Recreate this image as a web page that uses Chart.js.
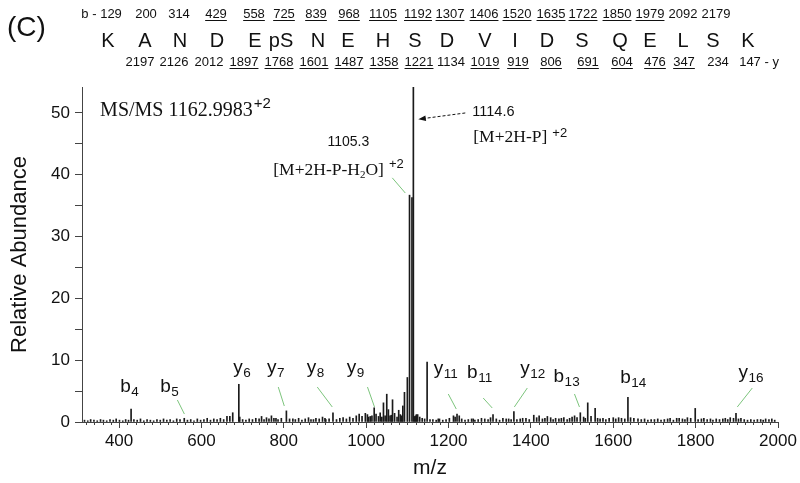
<!DOCTYPE html>
<html>
<head>
<meta charset="utf-8">
<script src="https://cdn.jsdelivr.net/npm/chart.js@4.4.1/dist/chart.umd.min.js"></script>
<style>
  html, body { margin: 0; padding: 0; background: #fff; }
  #contenitore { width: 800px; height: 483px; }
</style>
</head>
<body>
<div id="contenitore"><canvas id="spettro" width="800" height="483"></canvas></div>
<script>
// sequenza del peptide e ioni b / y (sottolineati = osservati)
const residui = ['K','A','N','D','E','pS','N','E','H','S','D','V','I','D','S','Q','E','L','S','K'];
const ioniB = [129,200,314,429,558,725,839,968,1105,1192,1307,1406,1520,1635,1722,1850,1979,2092,2179];
const ioniBVisti = [0,0,0,1,1,1,1,1,1,1,1,1,1,1,1,1,1,0,0];
const ioniY = [2197,2126,2012,1897,1768,1601,1487,1358,1221,1134,1019,919,806,691,604,476,347,234,147];
const ioniYVisti = [0,0,0,1,1,1,1,1,1,0,1,1,1,1,1,1,1,0,0];

// picchi principali [m/z, abbondanza relativa]
const picchiPrincipali = [
  [429.2,2.1],[558.3,0.6],[669,0.9],[676,1.5],[690.8,6.1],[693,0.8],[758,0.7],[770,1.0],[781,0.6],
  [806.3,1.8],[822,0.5],[872,0.4],[900,0.6],[919.4,1.5],[990,0.9],[998,1.4],[1003,1.2],[1010,0.9],
  [1019.5,2.3],[1030,0.9],[1038,0.8],[1042,3.1],[1050,4.5],[1058,1.0],[1064,3.6],[1075,0.8],
  [1083,1.2],[1089,2.6],[1093,4.8],[1100,7.2],[1105.3,36.7],[1111.2,36.3],[1114.6,54.2],
  [1120,1.0],[1125,1.2],[1148,9.7],[1175,0.5],[1212,1.0],[1220.6,1.3],[1226,1.0],[1260,0.5],
  [1308,1.2],[1340,0.5],[1358.7,1.7],[1380,0.6],[1407,1.1],[1420,1.0],[1440,0.9],[1460,0.6],
  [1480,0.7],[1500,0.8],[1506,1.0],[1520,1.5],[1528,0.8],[1538,3.1],[1556,2.2],[1575,0.6],
  [1600,0.7],[1613,0.7],[1635.6,4.0],[1642,0.7],[1660,0.5],[1700,0.4],[1738,0.6],[1760,0.6],
  [1780,0.7],[1799,2.2],[1820,0.6],[1850,0.5],[1884,0.7],[1898,1.4],[1910,0.6],[1950,0.4],
  [1970,0.5],[1985,0.5]
];

// picchi minori (rumore di fondo)
const picchiMinori = [
  [316,0.3],[324,0.2],[331,0.4],[339,0.3],[347,0.2],[355,0.4],[362,0.3],[370,0.2],[378,0.4],[386,0.3],
  [393,0.5],[401,0.3],[409,0.2],[416,0.4],[423,0.3],[436,0.4],[444,0.3],[452,0.5],[460,0.2],[468,0.4],
  [476,0.3],[484,0.2],[492,0.4],[500,0.3],[508,0.5],[516,0.3],[524,0.4],[532,0.2],[540,0.5],[548,0.4],
  [566,0.3],[574,0.4],[582,0.2],[590,0.5],[598,0.3],[606,0.4],[614,0.6],[622,0.3],[630,0.5],[638,0.4],
  [646,0.6],[654,0.4],[662,0.9],[700,0.4],[708,0.3],[716,0.5],[724,0.4],[732,0.6],[740,0.5],[746,0.9],
  [752,0.4],[764,0.5],[776,0.6],[786,0.4],[794,0.6],[814,0.5],[828,0.4],[836,0.6],[844,0.3],[852,0.5],
  [860,0.7],[866,0.4],[878,0.6],[886,0.5],[894,0.8],[902,0.4],[910,0.5],[928,0.4],[936,0.6],[944,0.7],
  [952,0.5],[960,0.8],[968,0.6],[976,1.0],[983,1.3],[1006,0.8],[1014,1.0],[1024,1.3],[1034,1.5],
  [1046,1.0],[1054,2.0],[1061,1.1],[1069,1.4],[1079,1.9],[1086,1.0],[1117,0.9],[1122,1.2],[1130,0.8],
  [1136,0.6],[1142,0.5],[1155,0.4],[1162,0.4],[1170,0.3],[1178,0.5],[1186,0.3],[1194,0.4],[1202,0.6],
  [1216,0.8],[1232,0.5],[1240,0.3],[1248,0.4],[1256,0.5],[1264,0.3],[1272,0.4],[1280,0.6],[1288,0.5],
  [1296,0.4],[1302,0.7],[1316,0.5],[1324,0.3],[1332,0.6],[1346,0.5],[1352,0.4],[1366,0.4],[1374,0.5],
  [1388,0.6],[1396,0.4],[1414,0.7],[1428,0.5],[1434,0.6],[1448,0.7],[1454,0.4],[1468,0.5],[1474,0.6],
  [1488,0.4],[1494,0.6],[1512,0.7],[1532,0.6],[1546,0.9],[1562,0.6],[1568,0.5],[1582,0.4],[1590,0.6],
  [1606,0.5],[1620,0.6],[1628,0.5],[1650,0.6],[1668,0.4],[1676,0.5],[1684,0.3],[1692,0.4],[1708,0.5],
  [1716,0.3],[1724,0.4],[1732,0.5],[1746,0.3],[1754,0.6],[1768,0.5],[1774,0.4],[1788,0.6],[1806,0.4],
  [1814,0.5],[1828,0.4],[1836,0.5],[1842,0.3],[1858,0.4],[1866,0.5],[1872,0.6],[1878,0.4],[1892,0.6],
  [1904,0.5],[1918,0.4],[1926,0.3],[1934,0.4],[1942,0.3],[1958,0.4],[1964,0.3],[1978,0.4],[1992,0.3]
];

const taccheX = [400,600,800,1000,1200,1400,1600,1800,2000];
const taccheY = [0,5,10,15,20,25,30,35,40,45,50];

// etichette ioni: [lettera, pedice, m/z bordo sinistro, abbondanza della linea base]
const etichetteIoni = [
  ['b','4',403,4.85],['b','5',500,4.85],['y','6',677,7.9],['y','7',759,7.9],['y','8',856,7.9],
  ['y','9',953,7.9],['y','11',1164,7.75],['b','11',1245,7.1],['y','12',1374,7.75],
  ['b','13',1455,6.5],['b','14',1617,6.3],['y','16',1904,7.1]
];
// linee verdi etichetta -> picco: [mz1, ab1, mz2, ab2]
const lineeVerdi = [
  [541.6,3.56,558.6,1.29],[786.6,5.66,801.2,2.59],[881.3,5.66,917.7,2.43],[1003.2,5.66,1020.2,2.43],
  [1199.4,4.53,1218.8,2.1],[1284.2,3.88,1306.1,2.27],[1391.3,5.5,1359.8,2.43],[1505.8,4.53,1517.9,2.43],
  [1937.6,5.5,1901.2,2.43],[1063.4,39.5,1095,37.05]
];

// posizioni orizzontali dell'intestazione (px)
const posResidui = [108,145,180,217,255,281,318,348,383,415,447,485,515,547,582,620,650,683,713,748];
const posB = [111,146,179,216,254,284,316,349,383,418,450,484,517,551,583,617,650,683,716];
const posY = [140,174,209,244,279,314,349,384,419,451,485,518,551,588,622,655,684,718,750];

const SANS = '"Liberation Sans", Arial, sans-serif';
const SERIF = '"Liberation Serif", "Times New Roman", serif';

function numero(ctx, s, x, y, sotto){
  const w = ctx.measureText(s).width;
  ctx.fillText(s, x, y);
  if(sotto) ctx.fillRect(x - w/2, y + 2, w, 1);
  return w;
}

function etichettaIone(ctx, lettera, pedice, x, y){
  ctx.textAlign = 'left';
  ctx.font = '19px ' + SANS;
  ctx.fillText(lettera, x, y);
  const w = ctx.measureText(lettera).width;
  ctx.font = '13.5px ' + SANS;
  ctx.fillText(pedice, x + w + 0.5, y + 4);
}

const pluginTesti = {
  id: 'testi',
  afterDraw(chart){
    const ctx = chart.ctx;
    const sx = chart.scales.x, sy = chart.scales.y;
    const px = m => sx.getPixelForValue(m);
    const py = a => sy.getPixelForValue(a);
    ctx.save();

    // tacche minori sull'asse x
    ctx.strokeStyle = '#444'; ctx.lineWidth = 1;
    ctx.beginPath();
    for(let m = 320; m < 2000; m += 20){
      if(m % 200 === 0) continue;
      const x = Math.round(px(m)) + 0.5;
      ctx.moveTo(x, sy.bottom); ctx.lineTo(x, sy.bottom + 3);
    }
    ctx.stroke();

    // intestazione
    ctx.fillStyle = '#111';
    ctx.textBaseline = 'alphabetic';
    ctx.textAlign = 'left';
    ctx.font = '28px ' + SANS;
    ctx.fillText('(C)', 7, 36);

    ctx.textAlign = 'center';
    ctx.font = '20px ' + SANS;
    residui.forEach((r, i) => ctx.fillText(r, posResidui[i], 47));

    ctx.font = '13px ' + SANS;
    ioniB.forEach((v, i) => {
      const w = numero(ctx, String(v), posB[i], 18, ioniBVisti[i]);
      if(i === 0){ ctx.textAlign = 'right'; ctx.fillText('b - ', posB[i] - w/2, 18); ctx.textAlign = 'center'; }
    });
    ioniY.forEach((v, i) => {
      const w = numero(ctx, String(v), posY[i], 66, ioniYVisti[i]);
      if(i === ioniY.length - 1){ ctx.textAlign = 'left'; ctx.fillText(' - y', posY[i] + w/2, 66); ctx.textAlign = 'center'; }
    });

    // linee verdi
    ctx.strokeStyle = '#7cc47c'; ctx.lineWidth = 1;
    lineeVerdi.forEach(l => {
      ctx.beginPath(); ctx.moveTo(px(l[0]), py(l[1])); ctx.lineTo(px(l[2]), py(l[3])); ctx.stroke();
    });

    // etichette ioni
    etichetteIoni.forEach(e => etichettaIone(ctx, e[0], e[1], px(e[2]), py(e[3])));

    // titolo interno
    ctx.textAlign = 'left';
    ctx.font = '20px ' + SERIF;
    const t = 'MS/MS 1162.9983';
    ctx.fillText(t, px(354), py(49.5));
    const wt = ctx.measureText(t).width;
    ctx.font = '15px ' + SANS;
    ctx.fillText('+2', px(354) + wt + 1, py(49.5) - 8);

    // 1105.3
    ctx.font = '14px ' + SANS;
    ctx.textAlign = 'center';
    ctx.fillText('1105.3', px(956.6), py(44.6));
    ctx.textAlign = 'left';
    let x0 = px(774.5), y0 = py(40.0);
    ctx.font = '17.5px ' + SERIF;
    ctx.fillText('[M+2H-P-H', x0, y0); x0 += ctx.measureText('[M+2H-P-H').width;
    ctx.font = '11px ' + SERIF;
    ctx.fillText('2', x0, y0 + 3); x0 += ctx.measureText('2').width;
    ctx.font = '17.5px ' + SERIF;
    ctx.fillText('O]', x0, y0); x0 += ctx.measureText('O]').width;
    ctx.font = '13px ' + SANS;
    ctx.fillText('+2', x0 + 5, y0 - 7);

    // 1114.6
    ctx.font = '14.5px ' + SANS;
    ctx.fillText('1114.6', px(1257.7), py(49.5));
    x0 = px(1260.1); y0 = py(45.3);
    ctx.font = '17.5px ' + SERIF;
    ctx.fillText('[M+2H-P]', x0, y0); x0 += ctx.measureText('[M+2H-P]').width;
    ctx.font = '13px ' + SANS;
    ctx.fillText('+2', x0 + 5, y0 - 5);

    // freccia tratteggiata
    const ax1 = px(1240.7), ay1 = py(50.0), ax2 = px(1126.6), ay2 = py(49.0);
    ctx.strokeStyle = '#111'; ctx.setLineDash([3, 2]);
    ctx.beginPath(); ctx.moveTo(ax1, ay1); ctx.lineTo(ax2 + 6, ay2 - 0.7); ctx.stroke();
    ctx.setLineDash([]);
    const ang = Math.atan2(ay2 - ay1, ax2 - ax1);
    ctx.beginPath();
    ctx.moveTo(ax2, ay2);
    ctx.lineTo(ax2 - 8*Math.cos(ang - 0.35), ay2 - 8*Math.sin(ang - 0.35));
    ctx.lineTo(ax2 - 8*Math.cos(ang + 0.35), ay2 - 8*Math.sin(ang + 0.35));
    ctx.closePath(); ctx.fillStyle = '#111'; ctx.fill();

    ctx.restore();
  }
};

const tuttiPicchi = picchiMinori.concat(picchiPrincipali);

new Chart(document.getElementById('spettro').getContext('2d'), {
  type: 'bar',
  data: {
    datasets: [{
      data: tuttiPicchi.map(p => ({x: p[0], y: p[1]})),
      backgroundColor: '#1a1a1a',
      borderWidth: 0,
      barThickness: 1,
      grouped: false
    }]
  },
  options: {
    responsive: false,
    animation: false,
    layout: { padding: { left: 0, right: 22, top: 87, bottom: 0 } },
    plugins: { legend: { display: false }, tooltip: { enabled: false } },
    scales: {
      x: {
        type: 'linear', min: 310, max: 2000, offset: false,
        afterBuildTicks: s => { s.ticks = taccheX.map(v => ({value: v})); },
        afterFit: s => { s.height = 61; },
        grid: { display: true, offset: false, drawOnChartArea: false, drawTicks: true, tickLength: 6, color: '#444' },
        border: { display: true, color: '#444', width: 1 },
        ticks: {
          color: '#111', font: { family: SANS, size: 17 }, padding: 3, maxRotation: 0, autoSkip: false,
          callback: v => String(v)
        },
        title: { display: true, text: 'm/z', color: '#111', font: { family: SANS, size: 21 }, padding: { top: 0, bottom: 2 } }
      },
      y: {
        min: 0, max: 54.2,
        afterBuildTicks: s => { s.ticks = taccheY.map(v => ({value: v})); },
        afterFit: s => { s.width = 82; },
        grid: { display: true, drawOnChartArea: false, drawTicks: true, tickLength: 7, color: '#444' },
        border: { display: true, color: '#444', width: 1 },
        ticks: {
          color: '#111', font: { family: SANS, size: 17 }, padding: 5,
          callback: v => (v % 10 === 0 ? String(v) : '')
        },
        title: { display: true, text: 'Relative Abundance', color: '#111', font: { family: SANS, size: 22 }, padding: { top: 7, bottom: 0 } }
      }
    }
  },
  plugins: [pluginTesti]
});
</script>
</body>
</html>
